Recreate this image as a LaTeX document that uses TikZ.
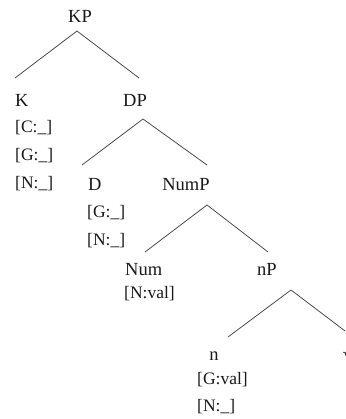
\documentclass[tikz,border=0pt]{standalone}
\usepackage{fontspec}
\setmainfont{Liberation Serif}
\begin{document}
\begin{tikzpicture}[x=1pt,y=-1pt,
  lab/.style={inner sep=0pt,font=\fontsize{18.5}{20}\selectfont,text=black!90},
  feat/.style={inner sep=0pt,anchor=base west,font=\fontsize{17.5}{20}\selectfont,text=black!90},
  br/.style={draw=black!70,line width=0.8pt}]
\useasboundingbox (0,0) rectangle (345,419);
\clip (0,0) rectangle (345,419);
% labels
\node[lab,anchor=base] (KP) at (80,23) {KP};
\node[lab,anchor=base west] (K) at (15,107) {K};
\node[lab,anchor=base] (DP) at (135,107) {DP};
\node[feat] (Kc) at (15,133) {[C:\_]};
\node[feat] (Kg) at (15,161) {[G:\_]};
\node[feat] (Kn) at (15,189) {[N:\_]};
\node[lab,anchor=base west] (D) at (88,191) {D};
\node[lab,anchor=base] (NumP) at (186,191) {NumP};
\node[feat] (Dg) at (87,218) {[G:\_]};
\node[feat] (Dn) at (87,245) {[N:\_]};
\node[lab,anchor=base west] (Num) at (125,275) {Num};
\node[lab,anchor=base] (nP) at (267,275) {nP};
\node[feat] (Numn) at (124,298) {[N:val]};
\node[lab,anchor=base] (n) at (214,360) {n};
\node[feat] (ng) at (197,384) {[G:val]};
\node[feat] (nn) at (197,411) {[N:\_]};
\node[lab,anchor=base west] (root) at (342.5,360) {√};
% branch points
\coordinate (KPa) at (77,31);
\coordinate (KPl) at (15,78);
\coordinate (KPr) at (139,78);
\coordinate (DPa) at (143,119);
\coordinate (DPl) at (82,165);
\coordinate (DPr) at (207,165);
\coordinate (NumPa) at (207,205);
\coordinate (NumPl) at (145,252);
\coordinate (NumPr) at (268,252);
\coordinate (nPa) at (291,290);
\coordinate (nPl) at (228,337);
\coordinate (nPr) at (353,337);
\draw[br] (KPl) -- (KPa) -- (KPr);
\draw[br] (DPl) -- (DPa) -- (DPr);
\draw[br] (NumPl) -- (NumPa) -- (NumPr);
\draw[br] (nPl) -- (nPa) -- (nPr);
\end{tikzpicture}
\end{document}
